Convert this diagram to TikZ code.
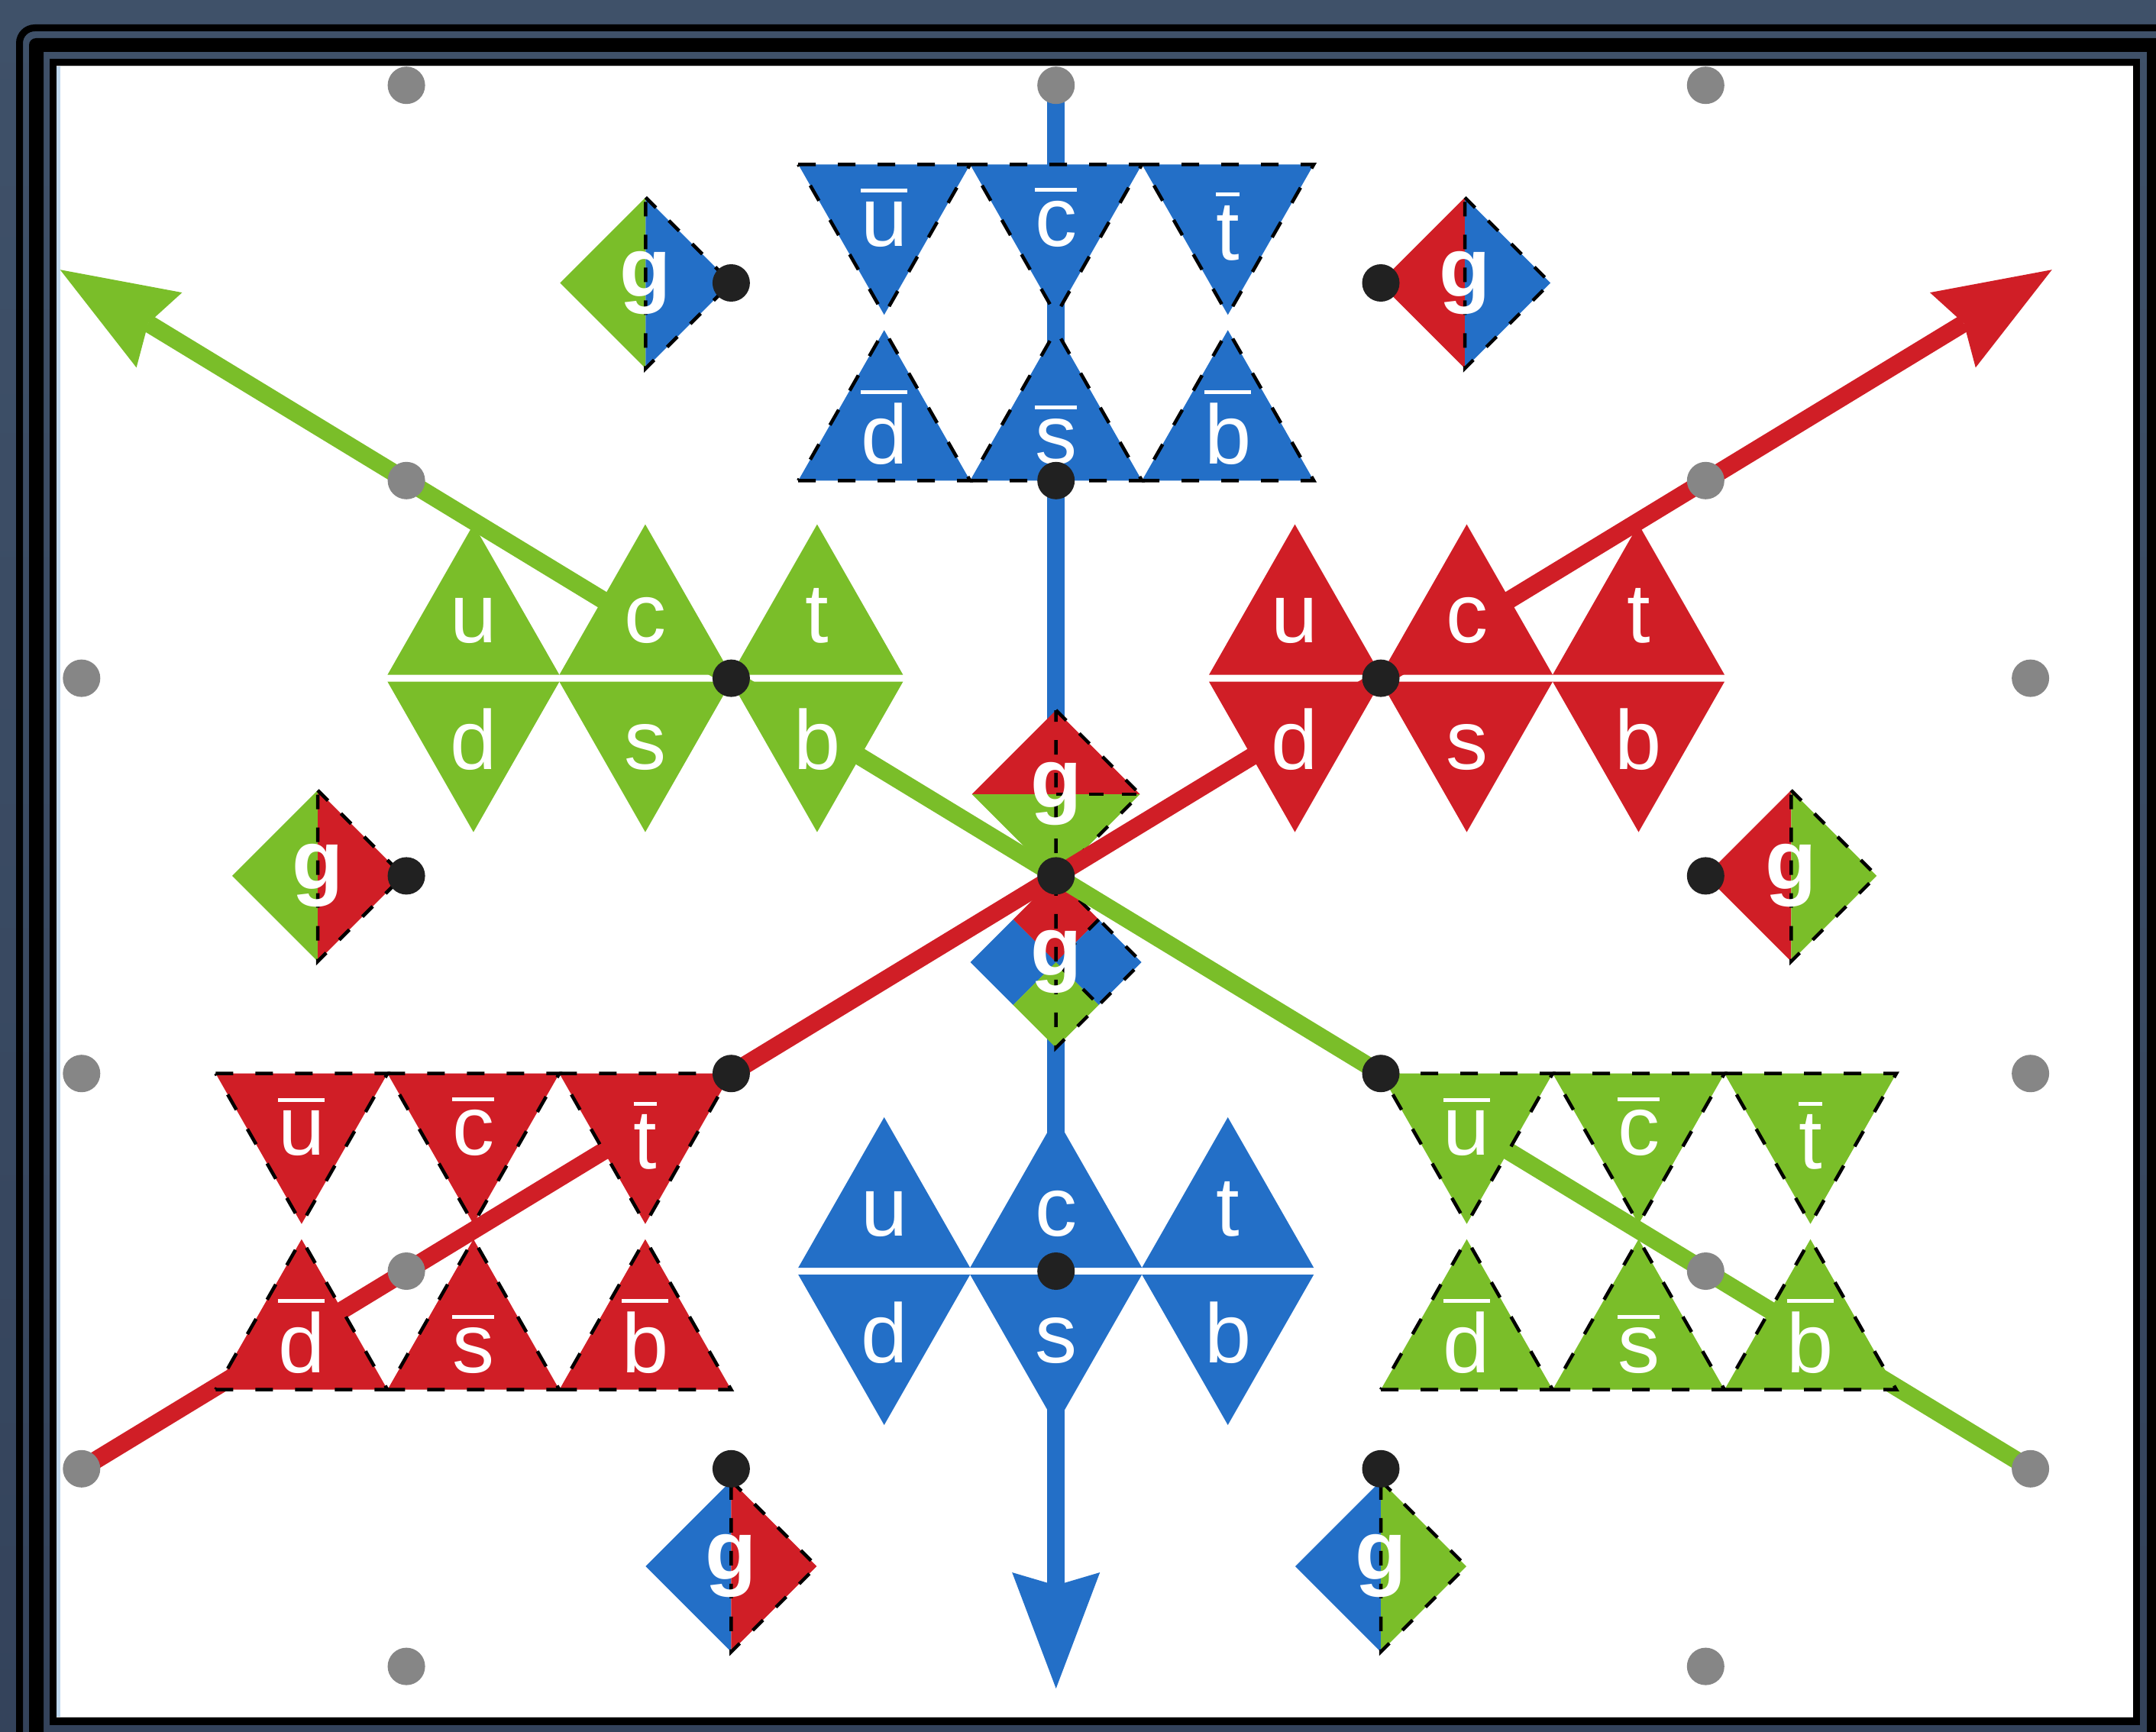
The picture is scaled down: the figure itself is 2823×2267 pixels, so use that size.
\documentclass[tikz,border=0pt]{standalone}
\usepackage{fontspec}
\setmainfont{Liberation Sans}
\usetikzlibrary{arrows.meta}

\definecolor{qblue}{RGB}{35,111,199}
\definecolor{qred}{RGB}{208,30,38}
\definecolor{qgreen}{RGB}{122,190,41}
\definecolor{dotblack}{RGB}{33,33,33}
\definecolor{dotgray}{RGB}{134,134,134}
\definecolor{frametop}{RGB}{63,81,105}
\definecolor{framebot}{RGB}{52,67,91}
\definecolor{edgeblue}{RGB}{189,215,238}

\newcommand\qfont{\fontsize{110pt}{120pt}\selectfont}
% letter with an overbar (antiquark)
\newcommand\ab[1]{\vbox{\hrule height 5pt\kern 12pt\hbox{#1}}}

\tikzset{
  qlabel/.style={text=white, font=\qfont, inner sep=0pt, anchor=base},
  glabel/.style={text=white, font=\qfont\bfseries, inner sep=0pt, anchor=center},
  tridash/.style={draw=black, line width=4.5pt, dash pattern=on 23pt off 29pt},
  gdash/.style={draw=black, line width=4.5pt, dash pattern=on 19pt off 24pt},
  flow/.style={line width=23pt, -{Stealth[length=152pt,width=115pt,inset=17pt,line width=0pt]}},
  vertex/.style={circle, fill=dotblack, minimum size=49pt, inner sep=0pt},
  gridpt/.style={circle, fill=dotgray, minimum size=49pt, inner sep=0pt},
}

% quark triplet pair: colour, name prefix, left x, y of the gap
\newcommand\quarks[4]{%
  \foreach \k/\up/\dn in {0/u/d,1/c/s,2/t/b}{
    \pgfmathsetmacro\xa{#3+225*\k}
    \pgfmathsetmacro\xm{\xa+112.5}
    \pgfmathsetmacro\xb{\xa+225}
    \fill[#1] (\xa,#4-4.5) -- (\xb,#4-4.5) -- (\xm,#4-201.5) -- cycle;
    \fill[#1] (\xa,#4+4.5) -- (\xb,#4+4.5) -- (\xm,#4+201.5) -- cycle;
    \node[qlabel] (#2\up) at (\xm,#4-46.5) {\up};
    \node[qlabel] (#2\dn) at (\xm,#4+119.5) {\dn};
  }}

% antiquark triplet pair: colour, name prefix, left x, top y
\newcommand\antiquarks[4]{%
  \foreach \k/\up/\dn/\dy in {0/u/d/0,1/c/s/0,2/t/b/18}{
    \pgfmathsetmacro\xa{#3+225*\k}
    \pgfmathsetmacro\xm{\xa+112.5}
    \pgfmathsetmacro\xb{\xa+225}
    \path[fill=#1, tridash] (\xa,#4) -- (\xb,#4) -- (\xm,#4+197) -- cycle;
    \path[fill=#1, tridash] (\xa,#4+414) -- (\xb,#4+414) -- (\xm,#4+217) -- cycle;
    \node[qlabel] (#2\up) at (\xm,#4+107+\dy) {\ab{\up}};
    \node[qlabel] (#2\dn) at (\xm,#4+392) {\ab{\dn}};
  }}

% gluon: name, centre x, centre y, colour, anticolour
\newcommand\gluon[5]{%
  \fill[#4] (#2,#3-112) -- (#2-112,#3) -- (#2,#3+112) -- cycle;
  \fill[#5] (#2,#3-112) -- (#2+112,#3) -- (#2,#3+112) -- cycle;
  \draw[gdash] (#2,#3-112) -- (#2+112,#3) -- (#2,#3+112) -- cycle;
  \node[glabel] (#1) at (#2,#3) {g};
}

\begin{document}
\begin{tikzpicture}[x=1pt,y=-1pt]
\useasboundingbox (0,0) rectangle (2823,2267);
\clip (0,0) rectangle (2823,2267);

% window frame
\shade[top color=frametop, bottom color=framebot] (0,0) rectangle (2823,2267);
\draw[black, line width=9pt, rounded corners=20pt] (25.5,36.5) rectangle (2950,2400);
\fill[black, even odd rule, rounded corners=9pt] (38,50) rectangle (2950,2400)
  {[sharp corners] (57,68) rectangle (2811,2400)};
\fill[black] (65,77) rectangle (2802,2259);
\fill[white] (74,86) rectangle (2793,2249);
\fill[edgeblue] (74,86) rectangle (79,2249);
\draw[black!20, line width=1.5pt] (74,86.5) -- (2793,86.5);
\draw[black!20, line width=1.5pt] (74,2248.5) -- (2793,2248.5);

% lattice points
\coordinate (Lm2m4) at (532.1,111.7);
\coordinate (L0m4) at (1382.7,111.7);
\coordinate (L2m4) at (2233.3,111.7);
\coordinate (Lm1m3) at (957.4,370.5);
\coordinate (L1m3) at (1808.0,370.5);
\coordinate (Lm2m2) at (532.1,629.3);
\coordinate (L0m2) at (1382.7,629.3);
\coordinate (L2m2) at (2233.3,629.3);
\coordinate (Lm3m1) at (106.8,888.1);
\coordinate (Lm1m1) at (957.4,888.1);
\coordinate (L1m1) at (1808.0,888.1);
\coordinate (L3m1) at (2658.6,888.1);
\coordinate (Lm2z) at (532.1,1146.9);
\coordinate (Lz) at (1382.7,1146.9);
\coordinate (L2z) at (2233.3,1146.9);
\coordinate (Lm3p1) at (106.8,1405.7);
\coordinate (Lm1p1) at (957.4,1405.7);
\coordinate (L1p1) at (1808.0,1405.7);
\coordinate (L3p1) at (2658.6,1405.7);
\coordinate (Lm2p2) at (532.1,1664.5);
\coordinate (L0p2) at (1382.7,1664.5);
\coordinate (L2p2) at (2233.3,1664.5);
\coordinate (Lm3p3) at (106.8,1923.3);
\coordinate (Lm1p3) at (957.4,1923.3);
\coordinate (L1p3) at (1808.0,1923.3);
\coordinate (L3p3) at (2658.6,1923.3);
\coordinate (Lm2p4) at (532.1,2182.1);
\coordinate (L2p4) at (2233.3,2182.1);
\coordinate (tipB) at (1382.7,2211);
\coordinate (tipR) at (2686.7,353.2);
\coordinate (tipG) at (78.7,353.2);

% two-colour gluons
\gluon{g1}{845.4}{370.5}{qgreen}{qblue}
\gluon{g2}{1918.0}{370.5}{qred}{qblue}
\gluon{g3}{416.0}{1146.9}{qgreen}{qred}
\gluon{g4}{2345.3}{1146.9}{qred}{qgreen}
\gluon{g5}{957.4}{2051.0}{qblue}{qred}
\gluon{g6}{1808.0}{2051.0}{qblue}{qgreen}

% blue axis runs behind the central gluons
\draw[flow, qblue] (L0m4) -- (tipB);

% central gluon, red over green
\fill[qred] (1382.7,930) -- (1272.7,1040) -- (1492.7,1040) -- cycle;
\fill[qgreen] (1272.7,1040) -- (1382.7,1150) -- (1492.7,1040) -- cycle;
\draw[gdash] (1382.7,930) -- (1492.7,1040) -- (1382.7,1150) -- cycle;
\draw[gdash] (1382.7,1040) -- (1492.7,1040);
\node[glabel] (g7) at (1382.7,1040) {g};

% central gluon, red / blue / green
\fill[qred] (1382.7,1148) -- (1326.7,1204) -- (1382.7,1260) -- (1438.7,1204) -- cycle;
\fill[qblue] (1270.7,1260) -- (1326.7,1204) -- (1382.7,1260) -- (1326.7,1316) -- cycle;
\fill[qblue] (1494.7,1260) -- (1438.7,1204) -- (1382.7,1260) -- (1438.7,1316) -- cycle;
\fill[qgreen] (1382.7,1372) -- (1326.7,1316) -- (1382.7,1260) -- (1438.7,1316) -- cycle;
\draw[gdash] (1382.7,1148) -- (1494.7,1260) -- (1382.7,1372) -- cycle;
\draw[gdash] (1438.7,1204) -- (1382.7,1260) -- (1438.7,1316);
\node[glabel] (g8) at (1382.7,1260) {g};

% red and green axes
\draw[flow, qred] (Lm3p3) -- (tipR);
\draw[flow, qgreen] (L3p3) -- (tipG);

% quark and antiquark triplets
\quarks{qgreen}{gq}{507.4}{888.1}
\quarks{qred}{rq}{1583.0}{888.1}
\quarks{qblue}{bq}{1045.2}{1664.5}
\antiquarks{qblue}{ba}{1045.2}{215.3}
\antiquarks{qred}{ra}{282.4}{1405.7}
\antiquarks{qgreen}{ga}{1808.0}{1405.7}

% lattice dots
\foreach \p in {Lm2m4,L0m4,L2m4,Lm2m2,L2m2,Lm3m1,L3m1,Lm3p1,L3p1,Lm2p2,L2p2,Lm3p3,L3p3,Lm2p4,L2p4}
  \node[gridpt] (d\p) at (\p) {};
\foreach \p in {L0m2,Lm1m3,L1m3,Lm1m1,L1m1,Lm2z,Lz,L2z,Lm1p1,L1p1,L0p2,Lm1p3,L1p3}
  \node[vertex] (d\p) at (\p) {};
\end{tikzpicture}
\end{document}
